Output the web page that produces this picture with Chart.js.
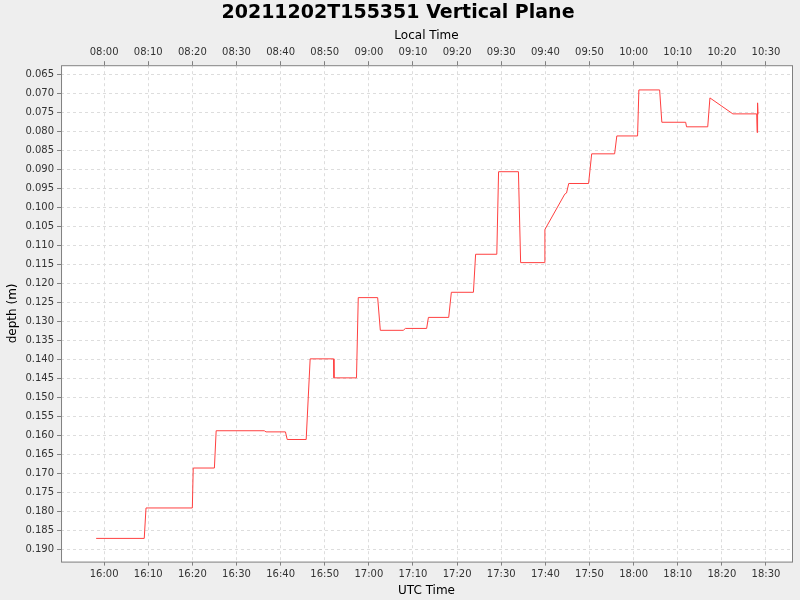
<!DOCTYPE html>
<html>
<head>
<script src="https://cdn.jsdelivr.net/npm/chart.js@4"></script>
<style>
body { margin: 0; background: #eeeeee; }
#wrap { width: 800px; height: 600px; }
</style>
</head>
<body>
<div id="wrap"><canvas id="c" width="800" height="600"></canvas></div>
<script>
// minutes after 16:00 UTC
const minutes = [-1.8, 9.1, 9.5, 20.0, 20.2, 25.0, 25.4, 36.3, 36.7, 41.1, 41.5, 45.8, 46.7, 52.0, 52.1, 57.2, 57.6,
  62.0, 62.6, 67.8, 68.3, 73.1, 73.5, 78.1, 78.7, 83.7, 84.2, 89.0, 89.4, 93.9, 94.4, 99.8, 99.9,
  104.4, 104.8, 105.3, 109.8, 110.5, 115.7, 116.2, 120.9, 121.2, 125.9, 126.4, 131.8, 132.0,
  136.8, 137.3, 142.5, 147.9, 148.0, 148.1, 148.2];
const depth = [0.187, 0.187, 0.179, 0.179, 0.1685, 0.1685, 0.1587, 0.1587, 0.159, 0.159, 0.161, 0.161, 0.1398, 0.1398, 0.1448, 0.1448, 0.1237,
  0.1237, 0.1323, 0.1323, 0.1318, 0.1318, 0.1289, 0.1289, 0.1223, 0.1223, 0.1123, 0.1123, 0.0906, 0.0906, 0.1145, 0.1145, 0.1058,
  0.0965, 0.0962, 0.0937, 0.0937, 0.0859, 0.0859, 0.0812, 0.0812, 0.0691, 0.0691, 0.0776, 0.0776, 0.0788,
  0.0788, 0.0712, 0.0754, 0.0754, 0.0803, 0.0725, 0.0755];
const utcStartHour = 16;
const localOffset = -8;

const pts = minutes.map((m, i) => ({ x: m, y: depth[i] }));

function fmtTime(v, offset) {
  if (Math.abs(v % 10) > 0.001) return '';
  let t = utcStartHour * 60 + v + offset * 60;
  const h = Math.floor(t / 60), mm = Math.round(t - h * 60);
  return String(h).padStart(2, '0') + ':' + String(mm).padStart(2, '0');
}

const plotBg = {
  id: 'plotBg',
  beforeDraw(chart) {
    const { ctx, chartArea: a } = chart;
    ctx.save();
    ctx.fillStyle = '#ffffff';
    ctx.fillRect(a.left, a.top, a.right - a.left, a.bottom - a.top);
    ctx.restore();
  },
  afterDraw(chart) {
    const { ctx, chartArea: a } = chart;
    ctx.save();
    ctx.strokeStyle = '#808080';
    ctx.lineWidth = 1;
    ctx.strokeRect(a.left + 0.5, a.top + 0.5, a.right - a.left, a.bottom - a.top);
    ctx.restore();
  }
};

const font = { family: 'DejaVu Sans', size: 10 };
const grid = { color: '#dddddd', tickColor: '#808080', tickLength: 4, drawTicks: true };

new Chart(document.getElementById('c'), {
  type: 'scatter',
  data: {
    datasets: [{
      data: pts,
      showLine: true,
      borderColor: '#ff4040',
      borderWidth: 1,
      pointRadius: 0,
      xAxisID: 'x',
      yAxisID: 'y'
    }]
  },
  options: {
    responsive: false,
    animation: false,
    layout: { padding: { left: 4, right: 8, top: 0, bottom: 2 } },
    plugins: {
      legend: { display: false },
      tooltip: { enabled: false },
      title: {
        display: true,
        text: '20211202T155351 Vertical Plane',
        color: '#000',
        font: { family: 'DejaVu Sans', size: 19, weight: 'bold' },
        padding: { top: 2, bottom: 4 }
      }
    },
    scales: {
      x: {
        type: 'linear', position: 'bottom',
        min: -9.76, max: 155.9,
        ticks: { stepSize: 10, includeBounds: false, autoSkip: false, maxRotation: 0, color: '#333', font, callback: v => fmtTime(v, 0) },
        grid: { ...grid, borderDash: [3, 3] },
        border: { dash: [3, 3], display: false },
        title: { display: true, text: 'UTC Time', color: '#000', font: { family: 'DejaVu Sans', size: 12 }, padding: 0 }
      },
      x2: {
        type: 'linear', position: 'top',
        min: -9.76, max: 155.9,
        ticks: { stepSize: 10, includeBounds: false, autoSkip: false, maxRotation: 0, color: '#333', font, callback: v => fmtTime(v, localOffset) },
        grid: { drawOnChartArea: false, tickColor: '#808080', tickLength: 4 },
        border: { display: false },
        title: { display: true, text: 'Local Time', color: '#000', font: { family: 'DejaVu Sans', size: 12 }, padding: 0 }
      },
      y: {
        type: 'linear', reverse: true,
        min: 0.0626, max: 0.1931,
        ticks: { stepSize: 0.005, includeBounds: false, autoSkip: false, color: '#333', font, callback: v => v.toFixed(3) },
        grid: { ...grid },
        border: { dash: [3, 3], display: false },
        title: { display: true, text: 'depth (m)', color: '#000', font: { family: 'DejaVu Sans', size: 12 }, padding: 2 }
      }
    }
  },
  plugins: [plotBg]
});
</script>
</body>
</html>
